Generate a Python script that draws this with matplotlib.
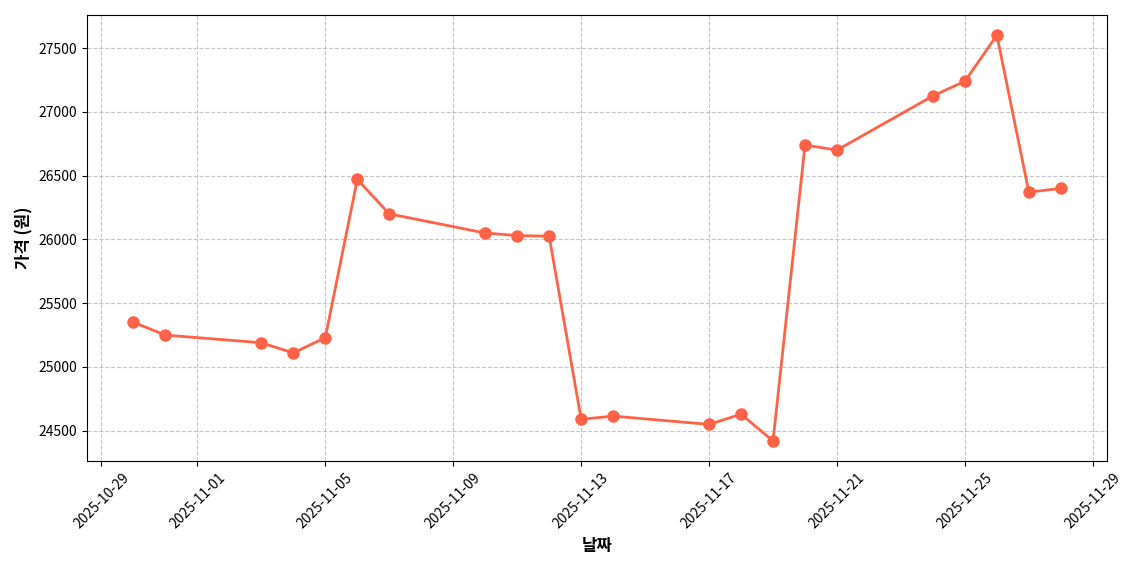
import pandas as pd
import matplotlib
matplotlib.use('Agg')
import matplotlib.pyplot as plt
import matplotlib.dates as mdates

plt.rcParams['font.family'] = ['Noto Sans CJK KR', 'DejaVu Sans']

dates = ['2025-10-30', '2025-10-31', '2025-11-03', '2025-11-04', '2025-11-05',
         '2025-11-06', '2025-11-07', '2025-11-10', '2025-11-11', '2025-11-12',
         '2025-11-13', '2025-11-14', '2025-11-17', '2025-11-18', '2025-11-19',
         '2025-11-20', '2025-11-21', '2025-11-24', '2025-11-25', '2025-11-26',
         '2025-11-27', '2025-11-28']
prices = [25350, 25250, 25190, 25110, 25230, 26470, 26200, 26050, 26030, 26025,
          24590, 24615, 24550, 24630, 24420, 26740, 26700, 27125, 27240, 27600,
          26370, 26400]
dates = pd.to_datetime(dates)

fig, ax = plt.subplots(figsize=(11.4, 5.7), dpi=100)
ax.plot(dates, prices, color='#FF6347', marker='o', markersize=8, linewidth=2)
ax.set_xlabel('날짜', fontsize=12, fontweight='bold')
ax.set_ylabel('가격 (원)', fontsize=12, fontweight='bold')
ax.grid(True, linestyle='--', alpha=0.7)
ax.xaxis.set_major_formatter(mdates.DateFormatter('%Y-%m-%d'))
plt.xticks(rotation=45)
plt.tight_layout()
plt.savefig('out.png')
